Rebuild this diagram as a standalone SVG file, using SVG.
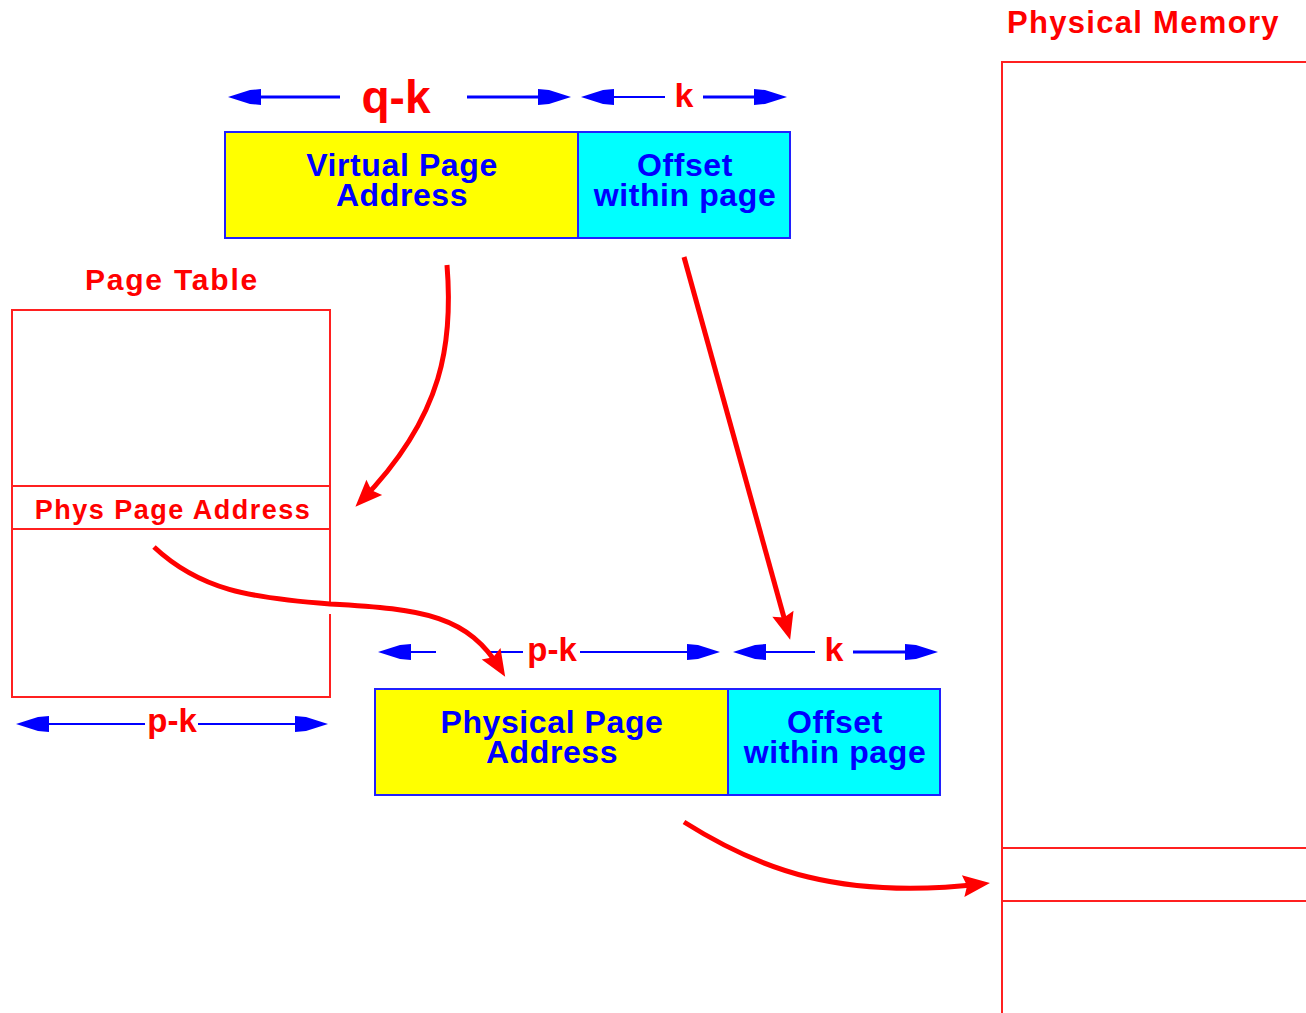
<svg xmlns="http://www.w3.org/2000/svg" width="1306" height="1013" viewBox="0 0 1306 1013">
<style>
  .blk { font-family: "Liberation Sans", Arial, sans-serif; font-weight: bold; }
  .btxt { fill: #0000ff; font-size: 32px; letter-spacing: 0.6px; text-anchor: middle; }
  .rtxt { fill: #ff0000; text-anchor: middle; }
  .rline { fill: none; stroke: #ff2020; stroke-width: 2; }
  .bbox { stroke: #2020ff; stroke-width: 2; }
  .dim { stroke: #0000ff; stroke-width: 2; fill: none; }
  .dim3 { stroke: #0000ff; stroke-width: 3; fill: none; }
  .red { stroke: #ff0000; stroke-width: 5; fill: none; }
</style>
<defs>
  <marker id="bh" markerUnits="userSpaceOnUse" viewBox="-34 -10 36 20" refX="-10" refY="0" markerWidth="36" markerHeight="20" orient="auto">
    <polygon points="0,0 -22,-7 -33,-8 -33,8 -22,7" fill="#0000ff"/>
  </marker>
  <marker id="rh" markerUnits="userSpaceOnUse" viewBox="-30 -14 32 28" refX="-8" refY="0" markerWidth="32" markerHeight="28" orient="auto">
    <polygon points="0,0 -27,-11 -23,0 -27,11" fill="#ff0000"/>
  </marker>
</defs>
<rect width="1306" height="1013" fill="#ffffff"/>

<g id="virtual-address">
  <rect x="225" y="132" width="353" height="106" fill="#ffff00" class="bbox"/>
  <rect x="578" y="132" width="212" height="106" fill="#00ffff" class="bbox"/>
  <text class="blk btxt" x="402" y="176">Virtual Page</text>
  <text class="blk btxt" x="402" y="206">Address</text>
  <text class="blk btxt" x="685" y="176">Offset</text>
  <text class="blk btxt" x="685" y="206">within page</text>
</g>

<g id="virtual-dims">
  <text class="blk rtxt" x="396" y="113" font-size="46">q-k</text>
  <text class="blk rtxt" x="684" y="107" font-size="34">k</text>
</g>

<g id="page-table">
  <text class="blk rtxt" x="172" y="290" font-size="30" letter-spacing="1.8">Page Table</text>
  <path class="rline" d="M330,604 V310 H12 V697 H330 V614"/>
  <line class="rline" x1="12" y1="486" x2="330" y2="486"/>
  <line class="rline" x1="12" y1="529" x2="330" y2="529"/>
  <text class="blk rtxt" x="173" y="519" font-size="27" letter-spacing="1.5">Phys Page Address</text>
  <text class="blk rtxt" x="172" y="732" font-size="33">p-k</text>
</g>

<g id="physical-address">
  <rect x="375" y="689" width="353" height="106" fill="#ffff00" class="bbox"/>
  <rect x="728" y="689" width="212" height="106" fill="#00ffff" class="bbox"/>
  <text class="blk btxt" x="552" y="733">Physical Page</text>
  <text class="blk btxt" x="552" y="763">Address</text>
  <text class="blk btxt" x="835" y="733">Offset</text>
  <text class="blk btxt" x="835" y="763">within page</text>
  <text class="blk rtxt" x="552" y="661" font-size="33">p-k</text>
  <text class="blk rtxt" x="834" y="661" font-size="34">k</text>
</g>

<g id="physical-memory">
  <text class="blk" x="1007" y="33" font-size="31" letter-spacing="1.3" fill="#ff0000">Physical Memory</text>
  <rect class="rline" x="1002" y="62" width="400" height="1000"/>
  <line class="rline" x1="1002" y1="848" x2="1306" y2="848"/>
  <line class="rline" x1="1002" y1="901" x2="1306" y2="901"/>
</g>

<g id="connectors">
  <line class="dim3" x1="340" y1="97" x2="238" y2="97" marker-end="url(#bh)"/>
  <line class="dim3" x1="467" y1="97" x2="561" y2="97" marker-end="url(#bh)"/>
  <line class="dim" x1="665" y1="97" x2="591" y2="97" marker-end="url(#bh)"/>
  <line class="dim3" x1="703" y1="97" x2="777" y2="97" marker-end="url(#bh)"/>

  <line class="dim" x1="436" y1="652" x2="388" y2="652" marker-end="url(#bh)"/>
  <line class="dim" x1="488" y1="652" x2="523" y2="652"/>
  <line class="dim" x1="580" y1="652" x2="710" y2="652" marker-end="url(#bh)"/>
  <line class="dim" x1="815" y1="652" x2="743" y2="652" marker-end="url(#bh)"/>
  <line class="dim3" x1="853" y1="652" x2="928" y2="652" marker-end="url(#bh)"/>

  <line class="dim" x1="145" y1="724" x2="26" y2="724" marker-end="url(#bh)"/>
  <line class="dim" x1="198" y1="724" x2="318" y2="724" marker-end="url(#bh)"/>

  <path class="red" d="M447,265 C453,340 445,415 361,501" marker-end="url(#rh)"/>
  <path class="red" d="M684,257 L788,632" marker-end="url(#rh)"/>
  <path class="red" d="M154,547 C200,590 250,598 330,604 C425,609 468,616 501,670" marker-end="url(#rh)"/>
  <path class="red" d="M684,822 C760,870 840,900 982,884" marker-end="url(#rh)"/>
</g>
</svg>
